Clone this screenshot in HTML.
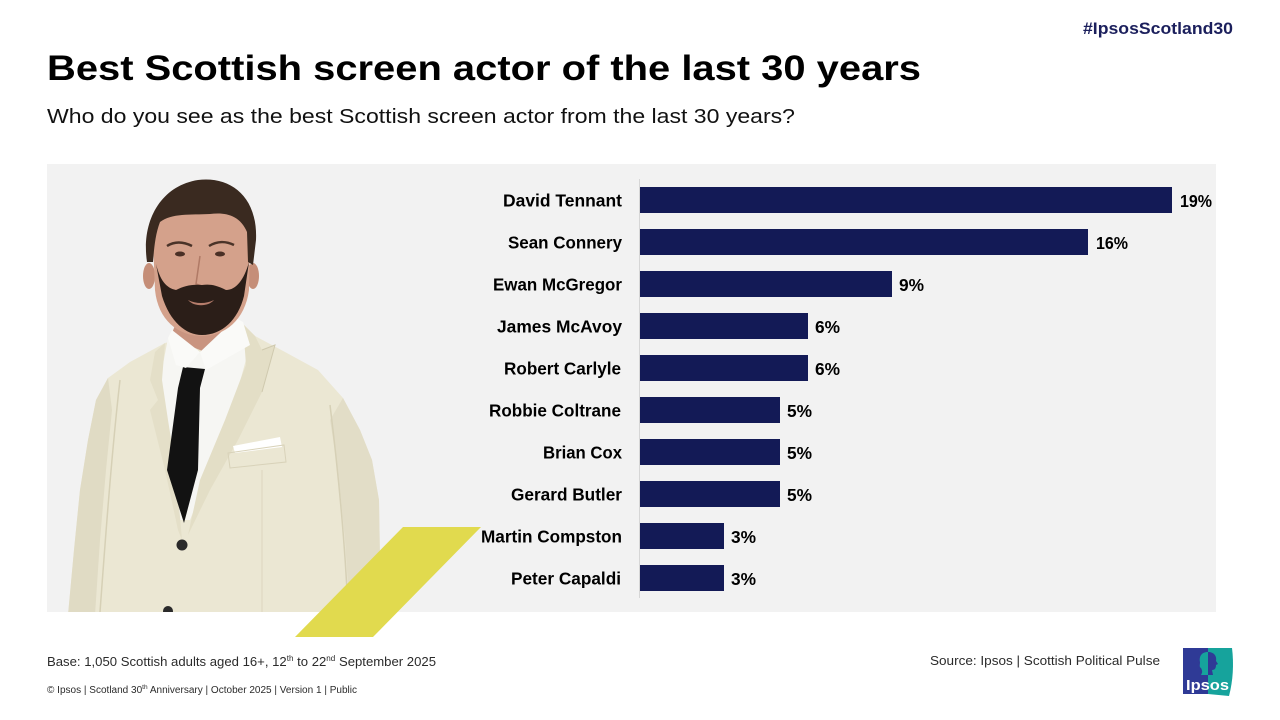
<!DOCTYPE html>
<html>
<head>
<meta charset="utf-8">
<style>
  html,body{margin:0;padding:0;background:#fff;}
  body{width:1280px;height:720px;overflow:hidden;}
  svg{display:block;}
  text{font-family:"Liberation Sans", Arial, sans-serif;}
</style>
</head>
<body>
<svg width="1280" height="720" viewBox="0 0 1280 720" xmlns="http://www.w3.org/2000/svg">
  <rect x="0" y="0" width="1280" height="720" fill="#ffffff"/>

  <!-- hashtag -->
  <text x="1083" y="34" font-size="16.5" font-weight="bold" fill="#1b1f5c" textLength="150" lengthAdjust="spacingAndGlyphs">#IpsosScotland30</text>

  <!-- title -->
  <text x="47" y="80" font-size="35" font-weight="bold" fill="#000" textLength="874" lengthAdjust="spacingAndGlyphs">Best Scottish screen actor of the last 30 years</text>
  <!-- subtitle -->
  <text x="47" y="123" font-size="20.5" fill="#111" textLength="748" lengthAdjust="spacingAndGlyphs">Who do you see as the best Scottish screen actor from the last 30 years?</text>

  <!-- grey panel -->
  <rect x="47" y="164" width="1169" height="448" fill="#f2f2f2"/>

  <!-- person -->
  <defs>
    <clipPath id="panelclip"><rect x="47" y="164" width="1169" height="448"/></clipPath>
  </defs>
  <g clip-path="url(#panelclip)">
    <!-- jacket -->
    <path d="M165,343 L130,362 L108,378 L96,400 L88,440 L80,490 L74,550 L68,615 L376,615 L380,560 L379,500 L372,460 L360,430 L343,398 L318,370 L285,352 L255,336 L243,324 Z" fill="#ebe7d3"/>
    <!-- jacket shading -->
    <path d="M108,378 L96,400 L88,440 L80,490 L74,550 L68,615 L95,615 L100,540 L106,470 L112,410 Z" fill="#e0dbc4"/>
    <path d="M343,398 L360,430 L372,460 L379,500 L380,560 L376,615 L350,615 L345,540 L338,470 L330,420 Z" fill="#e2ddc7"/>
    <path d="M120,380 C112,450 106,530 100,612" stroke="#d6d0b6" stroke-width="1.5" fill="none"/>
    <path d="M330,405 C338,470 345,540 348,612" stroke="#d6d0b6" stroke-width="1.5" fill="none"/>
    <path d="M262,470 L262,612" stroke="#dcd6bf" stroke-width="1" fill="none"/>
    <!-- shirt -->
    <path d="M168,338 L200,352 L243,322 L250,345 L235,400 L210,470 L190,520 L176,520 L165,450 L160,380 Z" fill="#f6f6f3"/>
    <!-- left lapel -->
    <path d="M165,343 L155,352 L150,380 L158,400 L150,410 L165,470 L178,530 L182,540 L176,470 L168,420 L162,380 Z" fill="#e4dfc8"/>
    <!-- right lapel -->
    <path d="M243,324 L255,336 L262,350 L275,345 L262,392 L238,440 L210,490 L188,535 L200,480 L225,420 L246,365 Z" fill="#e3dec6"/>
    <path d="M262,350 L275,345 L262,392" stroke="#cfc9ae" stroke-width="1" fill="none"/>
    <!-- tie -->
    <path d="M183,367 L205,369 L200,388 L198,470 L184,523 L167,470 L178,388 Z" fill="#121212"/>
    <!-- neck -->
    <path d="M178,318 L232,312 L240,326 L205,352 L170,338 Z" fill="#c99480"/>
    <!-- shirt collar -->
    <path d="M172,330 L168,338 L176,365 L186,368 L200,352 Z" fill="#fafaf8"/>
    <path d="M236,318 L243,322 L250,345 L206,370 L200,352 Z" fill="#fafaf8"/>
    <!-- pocket square -->
    <path d="M233,446 L280,437 L282,447 L235,453 Z" fill="#ffffff"/>
    <path d="M228,453 L284,445 L286,462 L230,468 Z" fill="none" stroke="#d8d2b9" stroke-width="1"/>
    <!-- buttons -->
    <circle cx="182" cy="545" r="5.5" fill="#2a2a2a"/>
    <circle cx="168" cy="611" r="5" fill="#2a2a2a"/>
    <!-- ears -->
    <ellipse cx="149" cy="276" rx="6" ry="13" fill="#c58e78"/>
    <ellipse cx="253" cy="276" rx="6" ry="13" fill="#c58e78"/>
    <!-- face -->
    <path d="M153,240 C153,210 172,200 200,200 C230,200 250,212 250,240 L249,290 C245,320 225,336 202,336 C178,336 158,320 155,290 Z" fill="#d4a18b"/>
    <!-- hair -->
    <path d="M147,262 C141,222 160,186 198,180 C230,176 258,196 256,240 L253,265 L248,262 L247,232 C240,215 225,212 210,214 C190,215 172,213 160,222 C155,235 154,250 153,262 Z" fill="#3a2a20"/>
    <!-- eyebrows / eyes -->
    <path d="M167,246 C175,241 184,242 192,246" stroke="#4a3328" stroke-width="2.5" fill="none"/>
    <path d="M209,246 C217,241 226,241 234,245" stroke="#4a3328" stroke-width="2.5" fill="none"/>
    <ellipse cx="180" cy="254" rx="5" ry="2.5" fill="#4a3026"/>
    <ellipse cx="220" cy="254" rx="5" ry="2.5" fill="#4a3026"/>
    <!-- nose -->
    <path d="M200,256 L196,284 L205,287" stroke="#b07a66" stroke-width="1.5" fill="none"/>
    <!-- beard -->
    <path d="M156,264 L162,296 C170,322 186,335 202,335 C222,335 238,320 244,296 L249,262 C244,280 236,290 226,290 C216,285 210,284 202,285 C192,284 184,286 176,290 C166,288 160,280 156,264 Z" fill="#2b1e18"/>
    <path d="M188,300 C196,304 206,304 214,300 C208,307 194,307 188,300 Z" fill="#b77e6c"/>
  </g>

  <!-- yellow shape -->
  <polygon points="403,527 481,527 373,637 295,637" fill="#e1da4e"/>

  <!-- axis line -->
  <line x1="639.5" y1="179" x2="639.5" y2="598" stroke="#d6d6d6" stroke-width="1"/>

  <!-- bars -->
  <g fill="#131a56">
    <rect x="640" y="187" width="532" height="26"/>
    <rect x="640" y="229" width="448" height="26"/>
    <rect x="640" y="271" width="252" height="26"/>
    <rect x="640" y="313" width="168" height="26"/>
    <rect x="640" y="355" width="168" height="26"/>
    <rect x="640" y="397" width="140" height="26"/>
    <rect x="640" y="439" width="140" height="26"/>
    <rect x="640" y="481" width="140" height="26"/>
    <rect x="640" y="523" width="84" height="26"/>
    <rect x="640" y="565" width="84" height="26"/>
  </g>

  <!-- category labels -->
  <g font-size="17.4" font-weight="bold" fill="#000">
    <text x="503" y="206.5" textLength="119" lengthAdjust="spacingAndGlyphs">David Tennant</text>
    <text x="508" y="248.5" textLength="114" lengthAdjust="spacingAndGlyphs">Sean Connery</text>
    <text x="493" y="290.5" textLength="129" lengthAdjust="spacingAndGlyphs">Ewan McGregor</text>
    <text x="497" y="332.5" textLength="125" lengthAdjust="spacingAndGlyphs">James McAvoy</text>
    <text x="504" y="374.5" textLength="117" lengthAdjust="spacingAndGlyphs">Robert Carlyle</text>
    <text x="489" y="416.5" textLength="132" lengthAdjust="spacingAndGlyphs">Robbie Coltrane</text>
    <text x="543" y="458.5" textLength="79" lengthAdjust="spacingAndGlyphs">Brian Cox</text>
    <text x="511" y="500.5" textLength="111" lengthAdjust="spacingAndGlyphs">Gerard Butler</text>
    <text x="481" y="542.5" textLength="141" lengthAdjust="spacingAndGlyphs">Martin Compston</text>
    <text x="511" y="584.5" textLength="110" lengthAdjust="spacingAndGlyphs">Peter Capaldi</text>
  </g>

  <!-- value labels -->
  <g font-size="17.4" font-weight="bold" fill="#000">
    <text x="1180" y="207" textLength="32" lengthAdjust="spacingAndGlyphs">19%</text>
    <text x="1096" y="249" textLength="32" lengthAdjust="spacingAndGlyphs">16%</text>
    <text x="899" y="291" textLength="25" lengthAdjust="spacingAndGlyphs">9%</text>
    <text x="815" y="333" textLength="25" lengthAdjust="spacingAndGlyphs">6%</text>
    <text x="815" y="375" textLength="25" lengthAdjust="spacingAndGlyphs">6%</text>
    <text x="787" y="417" textLength="25" lengthAdjust="spacingAndGlyphs">5%</text>
    <text x="787" y="459" textLength="25" lengthAdjust="spacingAndGlyphs">5%</text>
    <text x="787" y="501" textLength="25" lengthAdjust="spacingAndGlyphs">5%</text>
    <text x="731" y="543" textLength="25" lengthAdjust="spacingAndGlyphs">3%</text>
    <text x="731" y="585" textLength="25" lengthAdjust="spacingAndGlyphs">3%</text>
  </g>

  <!-- footer -->
  <text x="47" y="666" font-size="13" fill="#2b2b2b" textLength="389" lengthAdjust="spacingAndGlyphs">Base: 1,050 Scottish adults aged 16+, 12<tspan font-size="8" dy="-5">th</tspan><tspan dy="5"> to 22</tspan><tspan font-size="8" dy="-5">nd</tspan><tspan dy="5"> September 2025</tspan></text>
  <text x="47" y="693" font-size="10" fill="#2b2b2b" textLength="310" lengthAdjust="spacingAndGlyphs">© Ipsos | Scotland 30<tspan font-size="6.5" dy="-4">th</tspan><tspan dy="4"> Anniversary | October 2025 | Version 1 | Public</tspan></text>
  <text x="930" y="665" font-size="13" fill="#2b2b2b" textLength="230" lengthAdjust="spacingAndGlyphs">Source: Ipsos | Scottish Political Pulse</text>

  <!-- Ipsos logo -->
  <path d="M1183,648 L1208,648 L1208,694 L1183,694 Z" fill="#2f3a96"/>
  <path d="M1208,648 L1232,648 C1234,664 1233,681 1229,696 L1208,694 Z" fill="#16a39c"/>
  <path d="M1208,652 C1201,652 1199,657 1200,662 C1200,665 1199,667 1201,668 C1202,670 1203,672 1201,675 L1208,675 Z" fill="#16a39c"/>
  <path d="M1208,652 C1214,652 1217,656 1216,661 L1218,664 L1216,665 C1216,668 1215,670 1212,670 L1213,675 L1208,675 Z" fill="#2f3a96"/>
  <text x="1186" y="690" font-size="15" font-weight="bold" fill="#ffffff" textLength="43" lengthAdjust="spacingAndGlyphs">Ipsos</text>
</svg>
</body>
</html>
